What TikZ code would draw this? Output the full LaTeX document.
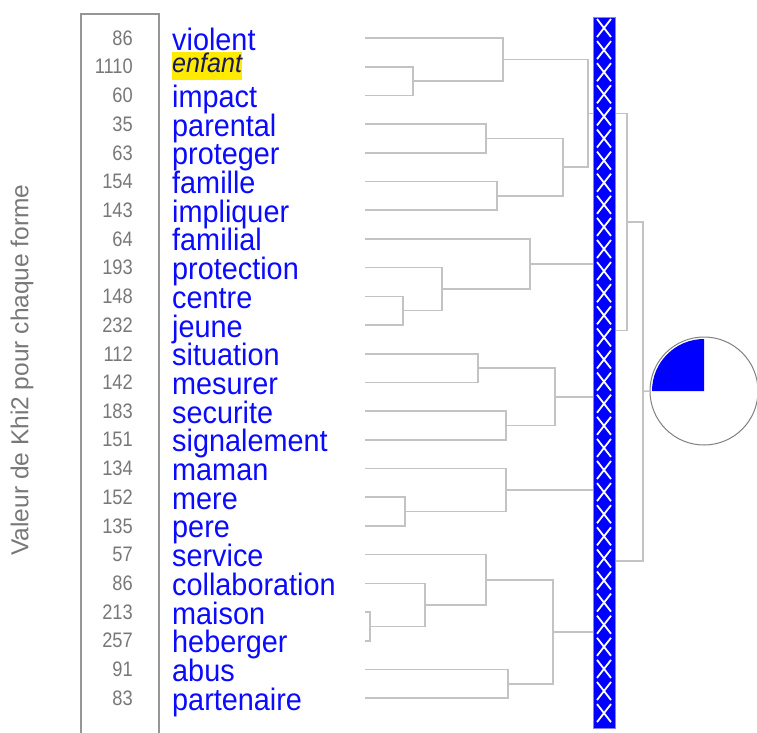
\documentclass[tikz,border=0pt]{standalone}
\usepackage{fontspec}
\setmainfont{Liberation Sans}
\newfontfamily\wordfont[FakeStretch=0.93]{Liberation Sans}
\newfontfamily\numfont[FakeStretch=0.87]{Liberation Sans}
\usetikzlibrary{calc}
\definecolor{dendrogray}{RGB}{195,195,195}
\definecolor{framegray}{RGB}{150,150,150}
\definecolor{valuegray}{RGB}{120,120,120}
\definecolor{wordblue}{RGB}{10,10,255}
\definecolor{keynavy}{RGB}{25,25,90}
\definecolor{keyyellow}{RGB}{255,235,0}
\definecolor{barblue}{RGB}{0,0,255}
\definecolor{baredge}{RGB}{130,130,255}
\tikzset{
    dendro/.style={draw=dendrogray, line width=1.6pt},
    word/.style={anchor=base west, inner sep=0pt, text=wordblue,
        font=\wordfont\fontsize{31}{31}\selectfont},
    keyword/.style={anchor=base west, inner sep=0pt, fill=keyyellow, text=keynavy,
        text height=20pt, text depth=8pt, yshift=6.7pt,
        font=\wordfont\itshape\fontsize{27}{27}\selectfont},
    value/.style={anchor=east, inner sep=0pt, text=valuegray,
        font=\numfont\fontsize{21}{21}\selectfont},
}
% join two branches at abscissa #3, new branch point named #4
\newcommand{\joinpair}[4]{%
    \coordinate (#4-t) at (#3,0 |- #1);
    \coordinate (#4-b) at (#3,0 |- #2);
    \coordinate (#4) at ($(#4-t)!0.5!(#4-b)$);
    \draw[dendro] (#1) -- (#4-t) -- (#4-b) -- (#2);
}
\begin{document}
\begin{tikzpicture}[x=1pt, y=-1pt]
    \useasboundingbox (0,0) rectangle (757,732);
    \node[rotate=90, text=valuegray, font=\fontsize{24.5}{24.5}\selectfont] (axislabel) at (22,370) {Valeur de Khi2 pour chaque forme};
    \draw[framegray, line width=1.5pt] (81,733) -- (81,14) -- (159,14) -- (159,733);
    \foreach \w/\n/\s [count=\i] in {violent/86/word, enfant/1110/keyword, impact/60/word,
        parental/35/word, proteger/63/word, famille/154/word, impliquer/143/word,
        familial/64/word, protection/193/word, centre/148/word, jeune/232/word,
        situation/112/word, mesurer/142/word, securite/183/word, signalement/151/word,
        maman/134/word, mere/152/word, pere/135/word, service/57/word,
        collaboration/86/word, maison/213/word, heberger/257/word, abus/91/word,
        partenaire/83/word}
    {
        \coordinate (l\i) at (365,{38+28.7*(\i-1)});
        \node[value] (n\i) at (133,{38+28.7*(\i-1)}) {\n};
        \node[\s] (w\i) at (172,{50+28.7*(\i-1)}) {\w};
    }
    % dendrogram
    \joinpair{l2}{l3}{413}{m23}
    \joinpair{l1}{m23}{503}{m13}
    \joinpair{l4}{l5}{486}{m45}
    \joinpair{l6}{l7}{497}{m67}
    \joinpair{m45}{m67}{563}{m47}
    \joinpair{m13}{m47}{588}{mA}
    \joinpair{l10}{l11}{403}{m1011}
    \joinpair{l9}{m1011}{442}{m911}
    \joinpair{l8}{m911}{530}{mB}
    \joinpair{l12}{l13}{478}{m1213}
    \joinpair{l14}{l15}{506}{m1415}
    \joinpair{m1213}{m1415}{555}{mC}
    \joinpair{l17}{l18}{405}{m1718}
    \joinpair{l16}{m1718}{506}{mD}
    \joinpair{l21}{l22}{370}{m2122}
    \joinpair{l20}{m2122}{425}{m2022}
    \joinpair{l19}{m2022}{486}{m1922}
    \joinpair{l23}{l24}{508}{m2324}
    \joinpair{m1922}{m2324}{553}{mE}
    \joinpair{mB}{mC}{604}{mBC}
    \joinpair{mD}{mE}{604}{mDE}
    \joinpair{mA}{mBC}{627}{mABC}
    \joinpair{mABC}{mDE}{643}{mroot}
    % class bar
    \node[draw=baredge, fill=barblue, line width=1pt, minimum width=22pt, minimum height=711pt,
        inner sep=0pt, anchor=north west] (bar) at (593,17) {};
    \begin{scope}
        \clip (bar.south west) rectangle (bar.north east);
        \foreach \k in {0,...,31}
            \draw[white, line width=1.8pt] (597,{19+22.1*\k}) -- (611,{37+22.1*\k})
                (611,{19+22.1*\k}) -- (597,{37+22.1*\k});
    \end{scope}
    % pie
    \node[circle, draw=gray, line width=1pt, minimum size=108pt, inner sep=0pt] (pie) at (704,391) {};
    \fill[barblue] (pie.center) -- ++(-52,0) arc[start angle=180, end angle=270, radius=52] -- cycle;
    \draw[dendro] (mroot) -- (pie.west);
\end{tikzpicture}
\end{document}
